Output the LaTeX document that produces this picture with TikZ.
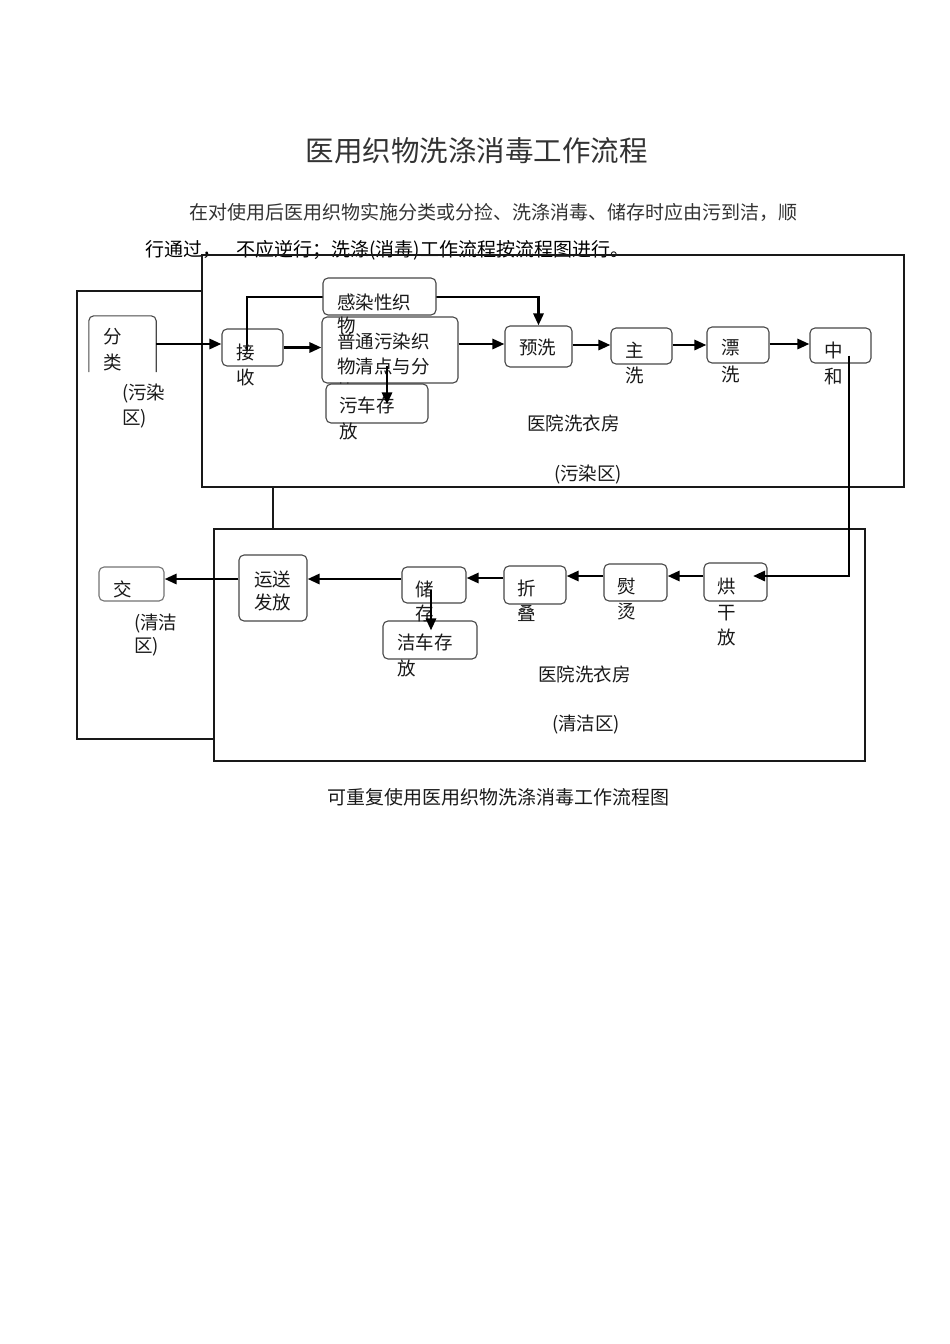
\documentclass[tikz,border=0pt]{standalone}
\usepackage{fontspec}
\setmainfont{Noto Sans CJK SC}
\usetikzlibrary{arrows.meta}
\begin{document}
\begin{tikzpicture}[x=1pt,y=-1pt,
  box/.style={draw=black!72, line width=1.1pt, rounded corners=5pt, fill=white, inner sep=0pt},
  ghost/.style={draw=none, inner sep=0pt},
  txt/.style={anchor=west, inner sep=0pt, text=black!90, font=\fontsize{18.5}{20}\selectfont},
  para/.style={anchor=west, inner sep=0pt, text=black!80, font=\fontsize{19}{21}\selectfont},
  frame/.style={draw=black!90, line width=1.8pt},
  flow/.style={draw=black, line width=2.8pt, -{Triangle[length=12pt,width=10pt]}},
]
\useasboundingbox (0,0) rectangle (950,1344);

% ---- headings and paragraph
\node[inner sep=0pt, text=black!80, font=\fontsize{28.5}{30}\selectfont] (title) at (476.5,151) {医用织物洗涤消毒工作流程};
\node[para] (line1) at (189,212) {在对使用后医用织物实施分类或分捡、洗涤消毒、储存时应由污到洁，顺};
\node[para, text=black] (line2) at (145,250) {行通过，\hspace{15pt}不应逆行；洗涤(消毒)工作流程按流程图进行。};
\node[txt, font=\fontsize{19}{21}\selectfont] (caption) at (327,797) {可重复使用医用织物洗涤消毒工作流程图};

% ---- zone frames
\draw[frame] (202,291) -- (77,291) -- (77,739) -- (214,739);
\draw[frame] (273,488) -- (273,529);
\draw[frame] (202,255) rectangle (904,487);
\draw[frame] (214,529) rectangle (865,761);

% ---- boxes (upper row)
\node[ghost, minimum width=67pt, minimum height=56pt] (fenlei) at (122.5,344) {};
\draw[draw=black!72, line width=1.1pt, rounded corners=5pt]
  (fenlei.south west) -- (fenlei.north west) -- (fenlei.north east) -- (fenlei.south east);
\node[box, minimum width=61pt, minimum height=37pt] (jieshou) at (252.5,347.5) {};
\node[box, minimum width=136pt, minimum height=66pt] (putong) at (390,350) {};
\node[box, minimum width=67pt, minimum height=41pt] (yuxi) at (538.5,346.5) {};
\node[box, minimum width=61pt, minimum height=36pt] (zhuxi) at (641.5,346) {};
\node[box, minimum width=62pt, minimum height=36pt] (piaoxi) at (738,345) {};
\node[box, minimum width=61pt, minimum height=35pt] (zhonghe) at (840.5,345.5) {};

% ---- boxes (lower row)
\node[box, minimum width=63pt, minimum height=38pt] (honggan) at (735.5,582) {};
\node[box, minimum width=63pt, minimum height=37pt] (yuntang) at (635.5,582.5) {};
\node[box, minimum width=62pt, minimum height=38pt] (zhedie) at (535,585) {};
\node[box, minimum width=94pt, minimum height=38pt] (jieche) at (430,640) {};
\node[box, minimum width=64pt, minimum height=36pt] (chucun) at (434,585) {};
\node[box, minimum width=68pt, minimum height=66pt] (yunsong) at (273,588) {};
\node[box, draw=black!55, minimum width=65pt, minimum height=34pt] (jiao) at (131.5,584) {};

% ---- text of the sorting box, partly hidden by the dirty-cart box
\node[txt] (tputong1) at (337,341) {普通污染织};
\node[txt] (tputong2) at (337,366) {物清点与分};
\node[txt] (tputong3) at (337,391) {拣};
\node[box, minimum width=102pt, minimum height=39pt] (wuche) at (377,403.5) {};

% ---- infected-linen bypass, running behind its box
\coordinate (gline) at (379.5,297);
\draw[flow] ([xshift=-5.5pt,yshift=-3pt]jieshou.center) |- (gline) -| (yuxi.north);
\node[box, minimum width=113pt, minimum height=37pt] (ganran) at (379.5,296.5) {};

% ---- texts
\node[txt] (t1a) at (103,337) {分};
\node[txt] (t1b) at (103,362) {类};
\node[txt] (z1a) at (122,394) {(污染};
\node[txt] (z1b) at (122,419) {区)};
\node[txt] (t2a) at (236,352) {接};
\node[txt] (t2b) at (236,377) {收};
\node[txt] (t3a) at (337,302) {感染性织};
\node[txt] (t3b) at (337,325) {物};
\node[txt] (t4a) at (339,405) {污车存};
\node[txt] (t4b) at (339,431) {放};
\node[txt] (t5) at (519,347) {预洗};
\node[txt] (t6a) at (625,350) {主};
\node[txt] (t6b) at (625,375) {洗};
\node[txt] (t7a) at (721,348) {漂};
\node[txt] (t7b) at (721,374) {洗};
\node[txt] (t8a) at (824,350) {中};
\node[txt] (t8b) at (824,377) {和};
\node[txt] (room1) at (527,423) {医院洗衣房};
\node[txt] (zone1) at (554,475) {(污染区)};

\node[txt] (t9a) at (717,587) {烘};
\node[txt] (t9b) at (717,613) {干};
\node[txt] (t9c) at (717,637) {放};
\node[txt] (t10a) at (617,587) {熨};
\node[txt] (t10b) at (617,612) {烫};
\node[txt] (t11a) at (517,588) {折};
\node[txt] (t11b) at (517,613) {叠};
\node[txt] (t12a) at (397,642) {洁车存};
\node[txt] (t12b) at (397,668) {放};
\node[txt] (t13a) at (415,589) {储};
\node[txt] (t13b) at (415,613) {存};
\node[txt] (t14a) at (254,579) {运送};
\node[txt] (t14b) at (254,602) {发放};
\node[txt] (t15) at (113,589) {交};
\node[txt] (z2a) at (134,624) {(清洁};
\node[txt] (z2b) at (134,647) {区)};
\node[txt] (room2) at (538,674) {医院洗衣房};
\node[txt] (zone2) at (552,725) {(清洁区)};

% ---- flow arrows, dirty side
\draw[flow] (fenlei.east) -- (fenlei.east -| jieshou.west);
\draw[flow] (jieshou.east) -- (jieshou.east -| putong.west);
\draw[flow] ([yshift=6pt]putong.east) -- ([yshift=6pt]putong.east -| yuxi.west);
\draw[flow] ([yshift=1.5pt]yuxi.east) -- ([yshift=1.5pt]yuxi.east -| zhuxi.west);
\draw[flow] ([yshift=1pt]zhuxi.east) -- ([yshift=1pt]zhuxi.east -| piaoxi.west);
\draw[flow] ([yshift=1pt]piaoxi.east) -- ([yshift=1pt]piaoxi.east -| zhonghe.west);
\draw[flow, shorten >=-5pt] ([xshift=-3pt,yshift=-16pt]putong.center) -- ([xshift=-3pt,yshift=-16pt]putong.center |- wuche.north);

% ---- neutralised linen to the clean side
\draw[flow] ([xshift=8.5pt,yshift=-10pt]zhonghe.center) |- ([xshift=17.5pt,yshift=6pt]honggan.center);

% ---- flow arrows, clean side
\draw[flow] ([yshift=6pt]honggan.west) -- ([yshift=6pt]honggan.west -| yuntang.east);
\draw[flow] ([yshift=6.5pt]yuntang.west) -- ([yshift=6.5pt]yuntang.west -| zhedie.east);
\draw[flow] ([yshift=7pt]zhedie.west) -- ([yshift=7pt]zhedie.west -| chucun.east);
\draw[flow] ([yshift=6pt]chucun.west) -- ([yshift=6pt]chucun.west -| yunsong.east);
\draw[flow] ([yshift=9pt]yunsong.west) -- ([yshift=9pt]yunsong.west -| jiao.east);
\draw[flow, shorten >=-5pt] ([xshift=-3pt,yshift=-5pt]chucun.center) -- ([xshift=-3pt,yshift=-5pt]chucun.center |- jieche.north);
\end{tikzpicture}
\end{document}
